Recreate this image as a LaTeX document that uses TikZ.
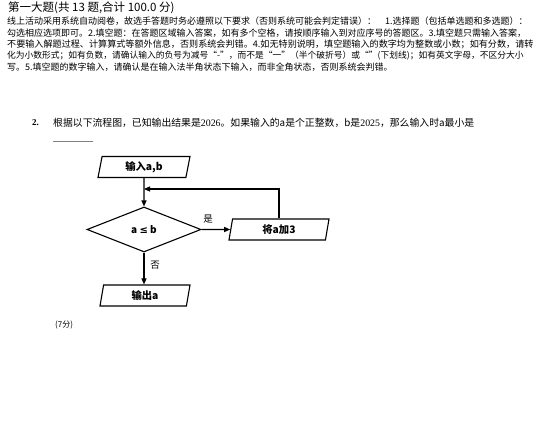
\documentclass[tikz,border=0pt]{standalone}
\usepackage{fontspec}
\setmainfont{Noto Sans CJK SC}
\newfontfamily\serifnum{Liberation Serif}
\newfontfamily\symfont{DejaVu Sans}
\usetikzlibrary{shapes.geometric,arrows.meta,positioning}

\tikzset{
  io/.style={draw, trapezium, trapezium left angle=70, trapezium right angle=110,
    trapezium stretches body, line width=1.1pt, minimum height=21pt, inner sep=0pt,
    font=\fontsize{10.3}{10.3}\selectfont\bfseries},
  decision/.style={draw, diamond, line width=1.1pt, minimum width=114pt,
    minimum height=45pt, inner sep=0pt, font=\fontsize{10}{10}\selectfont\bfseries},
  flow/.style={-{Triangle[length=6pt,width=5pt]}, line width=1.1pt},
  textline/.style={anchor=west, inner sep=0pt, font=\fontsize{9}{9}\selectfont},
  tag/.style={inner sep=0pt, font=\fontsize{9.5}{9.5}\selectfont},
}

\begin{document}
\begin{tikzpicture}[x=1pt,y=-1pt]
\useasboundingbox (0,0) rectangle (550,427);

% instructions
\node[textline, font=\fontsize{11.5}{11.5}\selectfont] (title) at (8,7.5) {第一大题(共 13 题,合计 100.0 分)};
\node[textline] (l1) at (7,21) {线上活动采用系统自动阅卷，故选手答题时务必遵照以下要求（否则系统可能会判定错误）：\quad 1.选择题（包括单选题和多选题）：};
\node[textline] (l2) at (7,33) {勾选相应选项即可。2.填空题：在答题区域输入答案，如有多个空格，请按顺序输入到对应序号的答题区。3.填空题只需输入答案，};
\node[textline, font=\fontsize{9.1}{9.1}\selectfont] (l3) at (7,44) {不要输入解题过程、计算算式等额外信息，否则系统会判错。4.如无特别说明，填空题输入的数字均为整数或小数；如有分数，请转};
\node[textline, font=\fontsize{8.75}{8.75}\selectfont] (l4) at (7,56) {化为小数形式；如有负数，请确认输入的负号为减号“-”，而不是“一”（半个破折号）或“”(下划线)；如有英文字母，不区分大小};
\node[textline] (l5) at (7,67) {写。5.填空题的数字输入，请确认是在输入法半角状态下输入，而非全角状态，否则系统会判错。};

% question
\node[textline, font=\fontsize{9}{9}\serifnum\bfseries] (qnum) at (32,123) {2.};
\node[textline, font=\fontsize{9.85}{9.85}\selectfont] (q) at (53,123) {根据以下流程图，已知输出结果是{\serifnum 2026}。如果输入的a是个正整数，b是{\serifnum 2025}，那么输入时a最小是};
\draw[gray, line width=1.5pt] (53,141.5) -- (93,141.5);

% flowchart
\node[io, minimum width=92pt] (in) at (144,167) {输入a,b};
\node[decision] (cond) at (144,229.5) {a {\symfont ≤} b};
\node[io, minimum width=100pt] (add) at (279,229.5) {将a加3};
\node[io, minimum width=90pt] (out) at (145,295.5) {输出a};
\coordinate (join) at (144,189);

\draw[flow] (in.south) -- (cond.north);
\draw[flow] (cond.east) -- (add.west);
\draw[flow] (add.north) |- (join);
\draw[flow] (cond.south) -- (cond.south |- out.north);

\node[tag] (yes) at (208,219) {是};
\node[tag] (no) at (155,265) {否};

\node[textline, font=\fontsize{8}{8}\selectfont] (score) at (55,325) {(7分)};
\end{tikzpicture}
\end{document}
